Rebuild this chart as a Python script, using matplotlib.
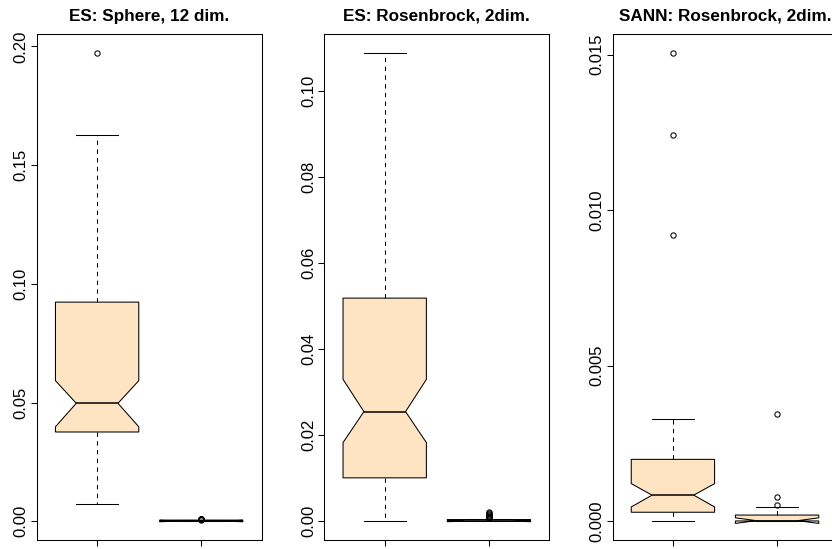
import matplotlib
matplotlib.use("Agg")
import matplotlib.pyplot as plt

plt.rcParams['font.family'] = ['Liberation Sans', 'DejaVu Sans']

titles = ["ES: Sphere, 12 dim.", "ES: Rosenbrock, 2dim.", "SANN: Rosenbrock, 2dim."]
positions = [1, 2]

# Panel 1: ES Sphere
p1_whislo = [0.0071, 0.0]
p1_q1 = [0.0376, 0.0]
p1_cilo = [0.0398, -0.0002]
p1_med = [0.0497, 0.0001]
p1_cihi = [0.0592, 0.0004]
p1_q3 = [0.0923, 0.0005]
p1_whishi = [0.1627, 0.0006]
p1_fliers = [[0.1972], [0.0007, 0.00075, 0.0008, 0.00085, 0.0009, 0.001]]
p1_ticks = [0.00, 0.05, 0.10, 0.15, 0.20]

# Panel 2: ES Rosenbrock
p2_whislo = [0.0, 0.0]
p2_q1 = [0.0101, 0.0]
p2_cilo = [0.0183, -0.0001]
p2_med = [0.0255, 0.00005]
p2_cihi = [0.0330, 0.0002]
p2_q3 = [0.0519, 0.0004]
p2_whishi = [0.1089, 0.0005]
p2_fliers = [[], [0.0007, 0.0009, 0.0011, 0.0013, 0.0015, 0.0017, 0.0019, 0.0021]]
p2_ticks = [0.00, 0.02, 0.04, 0.06, 0.08, 0.10]

# Panel 3: SANN Rosenbrock
p3_whislo = [0.0, 0.0]
p3_q1 = [0.00029, 0.00001]
p3_cilo = [0.00046, -0.00007]
p3_med = [0.00084, 0.00002]
p3_cihi = [0.00121, 0.00011]
p3_q3 = [0.00199, 0.00020]
p3_whishi = [0.00329, 0.00045]
p3_fliers = [[0.0092, 0.01242, 0.01505], [0.00051, 0.00078, 0.00346]]
p3_ticks = [0.000, 0.005, 0.010, 0.015]

panels = [
    (p1_whislo, p1_q1, p1_cilo, p1_med, p1_cihi, p1_q3, p1_whishi, p1_fliers, p1_ticks, "%.2f"),
    (p2_whislo, p2_q1, p2_cilo, p2_med, p2_cihi, p2_q3, p2_whishi, p2_fliers, p2_ticks, "%.2f"),
    (p3_whislo, p3_q1, p3_cilo, p3_med, p3_cihi, p3_q3, p3_whishi, p3_fliers, p3_ticks, "%.3f"),
]

W, H = 832, 549
fig = plt.figure(figsize=(W / 100, H / 100), dpi=100)

lefts_px = [36.7, 324.3, 612.5]
width_px = 225.0
top_px = 34.3
bottom_px = 540.0

lw = 0.75
for i, (wl, q1, cl, md, ch, q3, wh, fl, ticks, fmt) in enumerate(panels):
    ax = fig.add_axes([lefts_px[i] / W, 1 - bottom_px / H, width_px / W, (bottom_px - top_px) / H])
    stats = []
    for j in range(2):
        stats.append(dict(whislo=wl[j], q1=q1[j], cilo=cl[j], med=md[j], cihi=ch[j],
                          q3=q3[j], whishi=wh[j], fliers=fl[j]))
    ax.bxp(stats, positions=positions, widths=0.8, shownotches=True, patch_artist=True,
           boxprops=dict(facecolor='#FFE4C4', edgecolor='black', linewidth=lw),
           whiskerprops=dict(color='black', linewidth=lw, linestyle=(0, (4.2, 4.2))),
           capprops=dict(color='black', linewidth=lw),
           medianprops=dict(color='black', linewidth=1.1),
           flierprops=dict(marker='o', markerfacecolor='none', markeredgecolor='black',
                           markersize=3.8, markeredgewidth=lw, linestyle='none'))
    allv = wl + q1 + md + q3 + wh + [v for f in fl for v in f]
    lo, hi = min(allv), max(allv)
    d = hi - lo
    ax.set_ylim(lo - 0.04 * d, hi + 0.04 * d)
    ax.set_xlim(0.42, 2.58)
    ax.set_yticks(ticks)
    ax.set_yticklabels([fmt % t for t in ticks], rotation=90, va='center')
    ax.set_xticks(positions)
    ax.set_xticklabels(['', ''])
    ax.tick_params(direction='out', length=4, width=lw, labelsize=12, pad=2, colors='black')
    for s in ax.spines.values():
        s.set_linewidth(lw)
        s.set_color('black')
    ax.set_title(titles[i], fontsize=12.3, fontweight='bold', pad=9.8)

fig.savefig("out.png", dpi=100)
